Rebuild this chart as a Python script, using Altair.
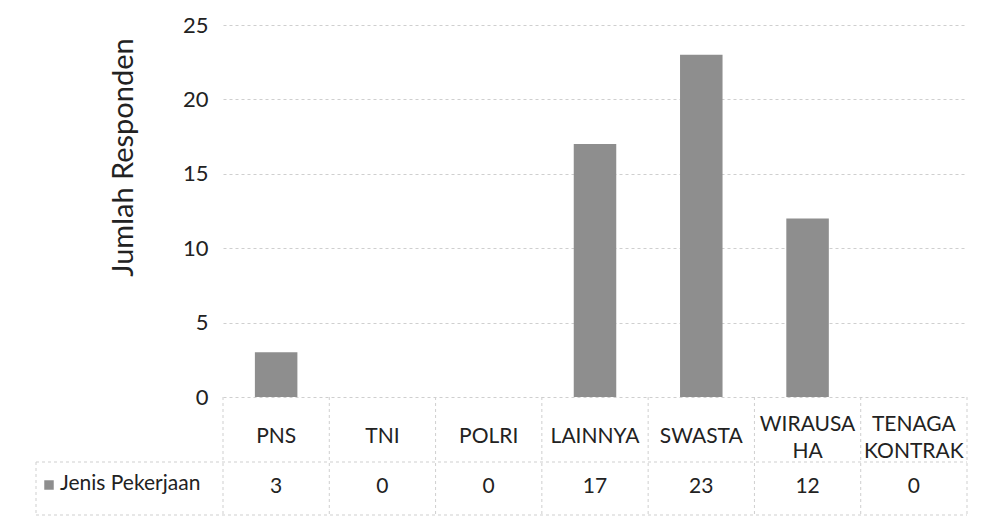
import altair as alt
import pandas as pd

categories = ["PNS", "TNI", "POLRI", "LAINNYA", "SWASTA", "WIRAUSAHA", "TENAGA KONTRAK"]
header_labels = ["PNS", "TNI", "POLRI", "LAINNYA", "SWASTA", "WIRAUSA\nHA", "TENAGA\nKONTRAK"]
values = [3, 0, 0, 17, 23, 12, 0]
series_name = "Jenis Pekerjaan"
y_title = "Jumlah Responden"

df = pd.DataFrame({"cat": categories, "label": header_labels, "val": values})
one = pd.DataFrame({"k": [0]})

W, H = 744, 372
FONT = "Lato"
GRID = "#cfcfcf"
DASH = [3, 3]
TXT = "#222222"
FS = 21

xs = alt.Scale(domain=categories, paddingInner=0, paddingOuter=0)
xenc = alt.X("cat:N", scale=xs, sort=categories)

base = alt.Chart(df)

bars = base.mark_bar(width={"band": 0.4}, color="#8e8e8e").encode(
    x=alt.X("cat:N", scale=xs, axis=None, sort=categories),
    y=alt.Y("val:Q", scale=alt.Scale(domain=[0, 25]),
            axis=alt.Axis(values=[0, 5, 10, 15, 20, 25], title=y_title, grid=True,
                          gridColor=GRID, gridDash=DASH, domain=False, ticks=False,
                          labelFontSize=22, labelColor=TXT, labelPadding=15,
                          labelFont=FONT, titleFont=FONT, titleFontSize=29,
                          titleFontWeight="normal", titleColor=TXT,
                          titleX=-100, titleY=132, titleAngle=-90,
                          titleBaseline="middle", titleAlign="center")),
)

header1 = base.transform_filter("indexof(datum.label, '\\n') < 0").mark_text(
    font=FONT, fontSize=FS, color=TXT, baseline="middle").encode(
    x=xenc, y=alt.value(H + 40), text="label:N")

header2 = base.transform_filter("indexof(datum.label, '\\n') >= 0").mark_text(
    font=FONT, fontSize=FS, color=TXT, lineBreak="\n", lineHeight=27,
    baseline="middle").encode(
    x=xenc, y=alt.value(H + 28), text="label:N")

vals = base.mark_text(font=FONT, fontSize=FS, color=TXT, baseline="middle").encode(
    x=xenc, y=alt.value(H + 90), text="val:Q")

vlines = base.mark_rule(color=GRID, strokeDash=DASH).encode(
    x=alt.X("cat:N", scale=xs, sort=categories, bandPosition=0),
    y=alt.value(H), y2=alt.value(H + 118))

c1 = alt.Chart(one)
rline = c1.mark_rule(color=GRID, strokeDash=DASH).encode(
    x=alt.value(W), y=alt.value(H), y2=alt.value(H + 118))
row2 = c1.mark_rule(color=GRID, strokeDash=DASH).encode(
    x=alt.value(-187), x2=alt.value(W), y=alt.value(H + 65))
row3 = c1.mark_rule(color=GRID, strokeDash=DASH).encode(
    x=alt.value(-187), x2=alt.value(W), y=alt.value(H + 118))
lline = c1.mark_rule(color=GRID, strokeDash=DASH).encode(
    x=alt.value(-187), y=alt.value(H + 65), y2=alt.value(H + 118))

swatch = c1.mark_square(size=90, color="#8e8e8e", opacity=1).encode(
    x=alt.value(-174), y=alt.value(H + 88))
legtext = c1.mark_text(font=FONT, fontSize=FS, color=TXT, align="left",
                       baseline="middle").encode(
    x=alt.value(-163), y=alt.value(H + 87), text=alt.value(series_name))

chart = alt.layer(bars, vlines, rline, row2, row3, lline, header1, header2, vals,
                  swatch, legtext).properties(
    width=W, height=H, background="white",
    padding={"left": 27, "top": 6, "right": 5, "bottom": 5}
).configure_view(stroke=None)

chart.save("out.html", embed_options={"renderer": "svg", "actions": False})
